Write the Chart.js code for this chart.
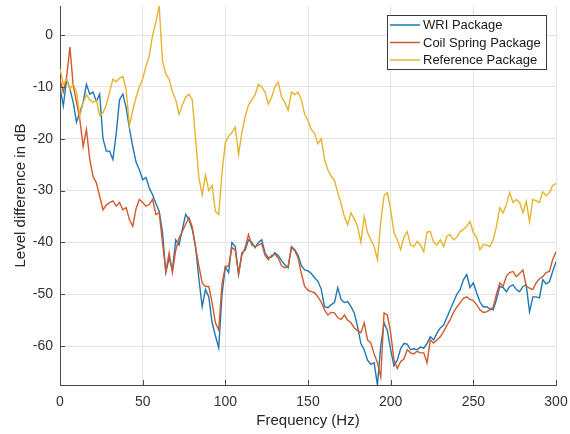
<!DOCTYPE html>
<html>
<head>
<meta charset="utf-8">
<script src="https://cdn.jsdelivr.net/npm/chart.js@4.4.1/dist/chart.umd.min.js"></script>
<style>
  html, body { margin: 0; padding: 0; background: #ffffff; }
  #wrap { width: 570px; height: 434px; position: relative; }
</style>
</head>
<body>
<div id="wrap"><canvas id="c" width="570" height="434"></canvas></div>
<script>
// Frequency grid (Hz)
const freq = [
  0,2,4,6,8,10,12,14,16,18,20,22,24,26,28,30,32,34,36,38,40,42,44,46,48,50,
  52,54,56,58,60,62,64,66,68,70,72,74,76,78,80,82,84,86,88,90,92,94,96,98,100,
  102,104,106,108,110,112,114,116,118,120,122,124,126,128,130,132,134,136,138,140,
  142,144,146,148,150,152,154,156,158,160,162,164,166,168,170,172,174,176,178,180,
  182,184,186,188,190,192,194,196,198,200,202,204,206,208,210,212,214,216,218,220,
  222,224,226,228,230,232,234,236,238,240,242,244,246,248,250,252,254,256,258,260,
  262,264,266,268,270,272,274,276,278,280,282,284,286,288,290,292,294,296,298,300
];

// Level difference in dB, WRI package
const wriPackage = [
  -10,-13.7,-8.5,-10.4,-13,-16.8,-14.9,-13,-9.5,-11.4,-11,-12.8,-11.4,-20,-22.4,-22.4,
  -24,-19,-12.5,-11.4,-14,-18,-21.5,-24.5,-26,-27.9,
  -27.5,-29.5,-30.8,-32.5,-34,-38,-45.8,-43,-45.3,-39.5,-40.5,-37.5,-34.6,-35.6,-37.5,
  -40.8,-47,-52.4,-49.1,-50.5,-55.5,-58,-60.3,-50,-44.7,
  -45.8,-40,-40.8,-46.2,-42,-41.5,-39.5,-40,-41,-40,-39.5,-42,-43,-42.8,-42,-42.5,
  -43.5,-44.3,-44.9,-40.8,
  -41.4,-42.5,-44.5,-45.3,-45.5,-46,-46.8,-47.5,-49,-52.4,-52.6,-52,-51.6,-48.7,-51,
  -51.6,-51.4,-52.4,-53.6,-56.3,
  -59.5,-60.7,-62.7,-63.5,-63.2,-67.5,-60,-55.5,-57,-60.7,-63.8,-62.7,-60.5,-59.5,
  -59.6,-60.7,-60.5,-60.7,-60.2,-60.4,
  -59.5,-58.2,-58.8,-57.5,-56.5,-56,-54.5,-53,-51.5,-50,-49.1,-47.2,-46.2,-48.7,-47.8,
  -49.7,-51.5,-52.4,-52.4,-52.8,
  -53,-51,-48.5,-48.7,-49.5,-48.5,-48.2,-49.1,-49.5,-48.5,-48.2,-53.4,-50.5,-50.5,
  -50.7,-47.2,-48,-47.6,-45.6,-43.7
];

// Level difference in dB, coil spring package
const coilSpringPackage = [
  -8.5,-11,-8.1,-2.3,-9.8,-13,-16.3,-21.5,-18.2,-24,-27.3,-28.5,-31.1,-33.7,-32.8,-32.3,
  -32,-33,-32.3,-33.7,-33.3,-35.6,-36.9,-33.5,-31.7,-32.3,
  -33,-32.7,-31.7,-34.6,-34.3,-40,-45.6,-42,-45.8,-41.5,-39.1,-37.9,-36.5,-35.2,-37,
  -41,-44.5,-47.8,-48.5,-48.5,-51.6,-55.5,-56.9,-48,-44.7,
  -44.5,-41,-41.5,-46,-42.5,-41,-38.5,-40.5,-40.8,-40.5,-40.2,-42.5,-43.3,-42.5,-42.3,
  -43,-44.5,-44.9,-44.5,-41,
  -41.6,-43,-46,-48.5,-49.2,-49.5,-49.7,-50.5,-51.5,-53,-54,-53.5,-53.6,-54.5,-54.9,
  -54,-55,-55.5,-56.5,-57,
  -57.4,-55.5,-58.8,-59.4,-61.5,-63.2,-66,-53.6,-54,-57.4,-62.7,-64.3,-63,-62.5,
  -60.7,-61.3,-61.5,-61,-61.3,-61.3,
  -63.2,-58.8,-59.4,-58.8,-58.2,-57.2,-56,-54.9,-53.5,-52.5,-51.6,-50.8,-50.5,-51,
  -51.2,-52,-53,-53.5,-53.4,-53,
  -52.5,-50,-47.8,-48.5,-46.5,-45.8,-45.6,-46.6,-46,-45.3,-48.5,-48.8,-49.1,-47.8,
  -47,-46.6,-45.8,-45.6,-43.3,-41.8
];

// Level difference in dB, reference package
const referencePackage = [
  -6.5,-9.5,-8.5,-10.5,-9.5,-11,-15.6,-13,-11.5,-12.5,-13,-12.5,-15.5,-15,-13.5,-11,
  -8.5,-9,-8.3,-8,-10.5,-17.5,-14.5,-12,-10,-8.5,
  -6,-4,0,2.5,5.6,-5,-7.5,-8.5,-11,-12.5,-15.3,-13.5,-12,-11.4,-12.5,
  -20,-27.5,-30.8,-27,-30,-29,-34,-34.6,-26.5,-20.7,
  -19.5,-18.8,-17.8,-23,-18.8,-15.7,-13.5,-12.5,-11.5,-9.5,-10,-11,-13.3,-12,-10,
  -9.1,-12,-13,-14.5,-11,
  -11.5,-11,-12.5,-15.3,-16.5,-18.2,-19,-21,-20,-24,-26,-27.2,-28,-30.4,-32.5,
  -35,-36.6,-34.3,-35.5,-36.9,
  -40,-35,-38.1,-39.5,-40.8,-43.3,-36,-31,-30.4,-33.7,-38.1,-39.5,-41.4,-39,
  -37.9,-40.5,-40.8,-39.8,-40.5,-41.8,
  -38,-37.9,-40,-40.5,-39.5,-40.8,-38.8,-38.5,-39.5,-39,-37.9,-37.5,-36.9,-36,
  -38.1,-39,-41.4,-40.4,-40.5,-40.8,
  -39.5,-36.9,-33.3,-34.3,-32.7,-30.4,-32.3,-31.7,-32.3,-34.3,-32.1,-36,-31.7,-32,
  -32.3,-30.2,-31,-30.4,-29,-28.6
];

const seriesNames = ['WRI Package', 'Coil Spring Package', 'Reference Package'];
const seriesColors = ['#1f77b4', '#d2592a', '#e6b42e'];
const xTickValues = [0, 50, 100, 150, 200, 250, 300];
const yTickValues = [-60, -50, -40, -30, -20, -10, 0];

const FONT = "'Liberation Sans', Arial, Helvetica, sans-serif";
const AXIS_COLOR = '#4a4a4a';

function toPoints(values) {
  return freq.map((f, i) => ({ x: f, y: values[i] }));
}

// Inward tick marks and the boxed legend in the upper right
const decorations = {
  id: 'decorations',
  afterDraw(chart) {
    const ctx = chart.ctx;
    const area = chart.chartArea;
    const xs = chart.scales.x, ys = chart.scales.y;
    ctx.save();
    ctx.strokeStyle = AXIS_COLOR;
    ctx.lineWidth = 1;
    ctx.beginPath();
    xTickValues.forEach(v => {
      const px = Math.round(xs.getPixelForValue(v)) + 0.5;
      ctx.moveTo(px, area.bottom);
      ctx.lineTo(px, area.bottom - 5);
    });
    yTickValues.forEach(v => {
      const py = Math.round(ys.getPixelForValue(v)) + 0.5;
      ctx.moveTo(area.left, py);
      ctx.lineTo(area.left + 5, py);
    });
    ctx.stroke();

    // legend
    const bx = 387.5, by = 15.5, bw = 159, bh = 54;
    ctx.fillStyle = '#ffffff';
    ctx.fillRect(bx, by, bw, bh);
    ctx.strokeStyle = '#3a3a3a';
    ctx.lineWidth = 1;
    ctx.strokeRect(bx, by, bw, bh);
    ctx.font = '13px ' + FONT;
    ctx.textBaseline = 'middle';
    ctx.textAlign = 'left';
    chart.data.datasets.forEach((ds, i) => {
      const ry = 25 + i * 17.5;
      ctx.strokeStyle = ds.borderColor;
      ctx.lineWidth = 1.5;
      ctx.beginPath();
      ctx.moveTo(390, ry);
      ctx.lineTo(420, ry);
      ctx.stroke();
      ctx.fillStyle = '#1a1a1a';
      ctx.fillText(ds.label, 423, ry + 0.5);
    });
    ctx.restore();
  }
};

new Chart(document.getElementById('c'), {
  type: 'line',
  data: {
    datasets: [
      { label: seriesNames[0], data: toPoints(wriPackage), borderColor: seriesColors[0], order: 3 },
      { label: seriesNames[1], data: toPoints(coilSpringPackage), borderColor: seriesColors[1], order: 2 },
      { label: seriesNames[2], data: toPoints(referencePackage), borderColor: seriesColors[2], order: 1 }
    ]
  },
  options: {
    responsive: false,
    animation: false,
    devicePixelRatio: 1,
    layout: { padding: { top: 6, right: 14, left: 0, bottom: 0 } },
    elements: {
      point: { radius: 0 },
      line: { borderWidth: 1.4, tension: 0, fill: false }
    },
    plugins: {
      legend: { display: false },
      tooltip: { enabled: false }
    },
    scales: {
      x: {
        type: 'linear',
        min: 0,
        max: 300,
        afterBuildTicks(scale) { scale.ticks = xTickValues.map(v => ({ value: v })); },
        afterFit(scale) {
          scale.height = 49;
          scale.paddingLeft = 0; scale.paddingRight = 0;
        },
        ticks: { color: '#333333', font: { family: FONT, size: 14 }, padding: 9, maxRotation: 0 },
        grid: { color: '#e4e4e4', drawTicks: false },
        border: { display: true, color: AXIS_COLOR, width: 1 },
        title: {
          display: true,
          text: 'Frequency (Hz)',
          color: '#262626',
          font: { family: FONT, size: 15 },
          padding: { top: 0, bottom: 4 }
        }
      },
      y: {
        type: 'linear',
        min: -67.5,
        max: 5.6,
        afterBuildTicks(scale) { scale.ticks = yTickValues.map(v => ({ value: v })); },
        afterFit(scale) {
          scale.width = 60;
          scale.paddingTop = 0; scale.paddingBottom = 0;
        },
        ticks: { color: '#333333', font: { family: FONT, size: 14 }, padding: 7 },
        grid: { color: '#e4e4e4', drawTicks: false },
        border: { display: true, color: AXIS_COLOR, width: 1 },
        title: {
          display: true,
          text: 'Level difference in dB',
          color: '#262626',
          font: { family: FONT, size: 15 },
          padding: { top: 12, bottom: 0 }
        }
      }
    }
  },
  plugins: [decorations]
});
</script>
</body>
</html>
